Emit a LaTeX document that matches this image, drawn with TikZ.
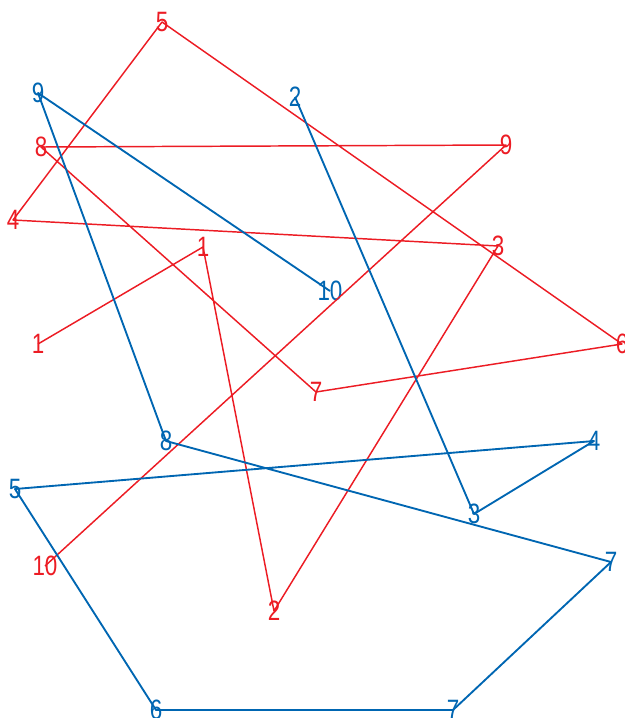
\documentclass[tikz,border=0pt]{standalone}
\usepackage{fontspec}
\setmainfont[FakeStretch=0.8]{Liberation Sans}
\definecolor{rd}{RGB}{236,28,36}
\definecolor{bl}{RGB}{0,102,178}
\begin{document}
\begin{tikzpicture}[x=0.75pt,y=-0.75pt,
  lbl/.style={inner sep=0pt,font=\fontsize{21}{21}\selectfont},
  rlbl/.style={lbl,text=rd},
  blbl/.style={lbl,text=bl},
  rline/.style={draw=rd,line width=1.1pt,line join=round},
  bline/.style={draw=bl,line width=1.4pt,line join=round}]
\useasboundingbox (0,0) rectangle (625,718);
% red nodes
\node[rlbl] (r1a) at (38,344) {1};
\node[rlbl] (r1b) at (203,247) {1};
\node[rlbl] (r2) at (274,611) {2};
\node[rlbl] (r3) at (498,246) {3};
\node[rlbl] (r4) at (13,220) {4};
\node[rlbl] (r5) at (162,22) {5};
\node[rlbl] (r6) at (622,344) {6};
\node[rlbl] (r7) at (316,392) {7};
\node[rlbl] (r8) at (41,147) {8};
\node[rlbl] (r9) at (506,145) {9};
\node[rlbl] (r10) at (45,566) {10};
% blue nodes
\node[blbl] (b2) at (295,97) {2};
\node[blbl] (b3) at (474,514) {3};
\node[blbl] (b4) at (594,441) {4};
\node[blbl] (b5) at (15,489) {5};
\node[blbl] (b6) at (156,710) {6};
\node[blbl] (b7a) at (453,710) {7};
\node[blbl] (b7b) at (611,562) {7};
\node[blbl] (b8) at (166,441) {8};
\node[blbl] (b9) at (38,93) {9};
\node[blbl] (b10) at (330,291) {10};
% red path
\draw[rline] (r1a.center) -- (r1b.center) -- (r2.center) -- (r3.center) -- (r4.center)
  -- (r5.center) -- (r6.center) -- (r7.center) -- (r8.center) -- (r9.center) -- (r10.center);
% blue path
\draw[bline] (b2.center) -- (b3.center) -- (b4.center) -- (b5.center) -- (b6.center)
  -- (b7a.center) -- (b7b.center) -- (b8.center) -- (b9.center) -- (b10.center);
\end{tikzpicture}
\end{document}
